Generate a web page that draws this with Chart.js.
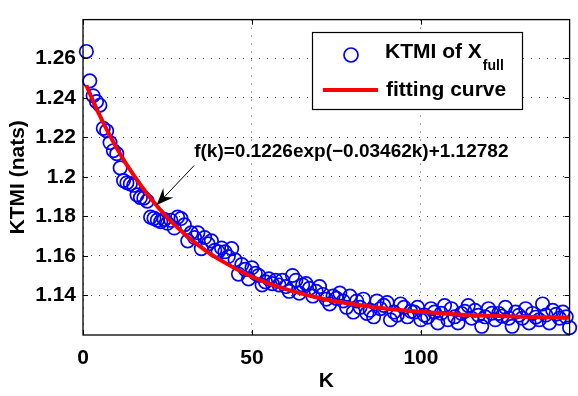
<!DOCTYPE html>
<html>
<head>
<meta charset="UTF-8">
<script src="https://cdn.jsdelivr.net/npm/chart.js@4.4.0/dist/chart.umd.min.js"></script>
<style>
    html, body { margin: 0; padding: 0; background: #fff; }
    canvas { display: block; }
</style>
</head>
<body>
<canvas id="myChart" width="578" height="396"></canvas>

<script>
    // K axis positions of the measured points
    var kValues = [
        1, 2, 3, 4, 5, 6, 7, 8, 9, 10, 11, 12, 13, 14, 15, 16, 17, 18, 19, 20,
        21, 22, 23, 24, 25, 26, 27, 28, 29, 30, 31, 32, 33, 34, 35, 36, 37, 38, 39, 40,
        41, 42, 43, 44, 45, 46, 47, 48, 49, 50, 51, 52, 53, 54, 55, 56, 57, 58, 59, 60,
        61, 62, 63, 64, 65, 66, 67, 68, 69, 70, 71, 72, 73, 74, 75, 76, 77, 78, 79, 80,
        81, 82, 83, 84, 85, 86, 87, 88, 89, 90, 91, 92, 93, 94, 95, 96, 97, 98, 99, 100,
        101, 102, 103, 104, 105, 106, 107, 108, 109, 110, 111, 112, 113, 114, 115, 116, 117, 118, 119, 120,
        121, 122, 123, 124, 125, 126, 127, 128, 129, 130, 131, 132, 133, 134, 135, 136, 137, 138, 139, 140,
        141, 142, 143, 144
    ];

    // KTMI of X_full (nats)
    var ktmiValues = [
        1.2634, 1.2485, 1.2410, 1.2380, 1.2362, 1.2245, 1.2232, 1.2173, 1.2132, 1.2117,
        1.2045, 1.1981, 1.1970, 1.1964, 1.1957, 1.1909, 1.1895, 1.1892, 1.1877, 1.1796,
        1.1790, 1.1781, 1.1773, 1.1785, 1.1765, 1.1780, 1.1741, 1.1796, 1.1789, 1.1757,
        1.1676, 1.1717, 1.1693, 1.1717, 1.1637, 1.1693, 1.1661, 1.1676, 1.1628, 1.1621,
        1.1640, 1.1621, 1.1597, 1.1637, 1.1580, 1.1508, 1.1556, 1.1532, 1.1484, 1.1540,
        1.1512, 1.1501, 1.1453, 1.1469, 1.1484, 1.1460, 1.1477, 1.1453, 1.1477, 1.1445,
        1.1421, 1.1501, 1.1477, 1.1412, 1.1453, 1.1460, 1.1436, 1.1397, 1.1421, 1.1445,
        1.1405, 1.1381, 1.1357, 1.1397, 1.1385, 1.1412, 1.1372, 1.1340, 1.1397, 1.1316,
        1.1372, 1.1340, 1.1381, 1.1309, 1.1325, 1.1292, 1.1372, 1.1333, 1.1350, 1.1364,
        1.1277, 1.1316, 1.1300, 1.1357, 1.1340, 1.1292, 1.1320, 1.1316, 1.1340, 1.1277,
        1.1301, 1.1290, 1.1333, 1.1316, 1.1261, 1.1310, 1.1349, 1.1277, 1.1333, 1.1292,
        1.1261, 1.1309, 1.1320, 1.1349, 1.1285, 1.1325, 1.1300, 1.1244, 1.1292, 1.1333,
        1.1310, 1.1277, 1.1309, 1.1295, 1.1340, 1.1285, 1.1244, 1.1316, 1.1300, 1.1285,
        1.1333, 1.1261, 1.1309, 1.1290, 1.1277, 1.1357, 1.1301, 1.1261, 1.1325, 1.1305,
        1.1285, 1.1316, 1.1292, 1.1237
    ];

    // fitting curve, sampled along the red line
    var fitK = [1, 3, 6, 10, 15, 20, 25, 30, 35, 40, 50, 60, 70, 80, 90, 100, 110, 120, 130, 144];
    var fitValues = [1.2463, 1.2383, 1.2274, 1.2145, 1.2008, 1.1892, 1.1794, 1.1712, 1.1643, 1.1585,
                     1.1495, 1.1432, 1.1387, 1.1355, 1.1333, 1.1317, 1.1305, 1.1297, 1.1292, 1.1287];

    var xTicks = [0, 50, 100];
    var yTicks = [1.14, 1.16, 1.18, 1.2, 1.22, 1.24, 1.26];

    var fitLabel = 'f(k)=0.1226exp(\u22120.03462k)+1.12782';
    var arrowTip = {x: 21.8, y: 1.1857};
    var labelAt = {x: 32.9, y: 1.2128};

    var FONT = '"Liberation Sans", Arial, Helvetica, sans-serif';

    // box, inward ticks, legend and the text arrow, MATLAB style
    var matlabBits = {
        id: 'matlabBits',
        afterDraw: function (chart) {
            var ctx = chart.ctx;
            var a = chart.chartArea;
            var xs = chart.scales.x, ys = chart.scales.y;
            ctx.save();

            ctx.strokeStyle = '#000';
            ctx.lineWidth = 1.3;
            ctx.strokeRect(a.left, a.top, a.right - a.left, a.bottom - a.top);

            ctx.lineWidth = 1;
            ctx.beginPath();
            xTicks.forEach(function (t) {
                var px = Math.round(xs.getPixelForValue(t)) + 0.5;
                ctx.moveTo(px, a.bottom); ctx.lineTo(px, a.bottom - 5);
                ctx.moveTo(px, a.top); ctx.lineTo(px, a.top + 5);
            });
            yTicks.forEach(function (t) {
                var py = Math.round(ys.getPixelForValue(t)) + 0.5;
                ctx.moveTo(a.left, py); ctx.lineTo(a.left + 5, py);
                ctx.moveTo(a.right, py); ctx.lineTo(a.right - 5, py);
            });
            ctx.stroke();

            // annotation
            var tx = xs.getPixelForValue(arrowTip.x), ty = ys.getPixelForValue(arrowTip.y);
            var lx = xs.getPixelForValue(labelAt.x), ly = ys.getPixelForValue(labelAt.y);
            var sx = lx, sy = ly + 14;
            var ang = Math.atan2(ty - sy, tx - sx);
            ctx.beginPath();
            ctx.moveTo(sx, sy); ctx.lineTo(tx, ty);
            ctx.stroke();
            ctx.fillStyle = '#000';
            ctx.beginPath();
            ctx.moveTo(tx, ty);
            ctx.lineTo(tx - 17 * Math.cos(ang) + 7 * Math.sin(ang), ty - 17 * Math.sin(ang) - 7 * Math.cos(ang));
            ctx.lineTo(tx - 11 * Math.cos(ang), ty - 11 * Math.sin(ang));
            ctx.lineTo(tx - 17 * Math.cos(ang) - 7 * Math.sin(ang), ty - 17 * Math.sin(ang) + 7 * Math.cos(ang));
            ctx.closePath();
            ctx.fill();
            ctx.font = 'bold 19px ' + FONT;
            ctx.textBaseline = 'middle';
            ctx.textAlign = 'left';
            ctx.fillText(fitLabel, lx, ly);

            // legend
            var bx = 312, by = 32, bw = 210, bh = 77;
            ctx.fillStyle = '#fff';
            ctx.fillRect(bx, by, bw, bh);
            ctx.strokeStyle = '#000';
            ctx.lineWidth = 1.2;
            ctx.strokeRect(bx + 0.5, by + 0.5, bw, bh);
            ctx.strokeStyle = '#0000ff';
            ctx.lineWidth = 1.7;
            ctx.beginPath();
            ctx.arc(351, 55, 7, 0, Math.PI * 2);
            ctx.stroke();
            ctx.strokeStyle = '#ff0000';
            ctx.lineWidth = 4;
            ctx.beginPath();
            ctx.moveTo(323, 90); ctx.lineTo(378, 90);
            ctx.stroke();
            ctx.fillStyle = '#000';
            ctx.textBaseline = 'alphabetic';
            ctx.font = 'bold 21px ' + FONT;
            ctx.fillText('KTMI of X', 385, 58);
            var w = ctx.measureText('KTMI of X').width;
            ctx.font = 'bold 14px ' + FONT;
            ctx.fillText('full', 385 + w + 1, 70);
            ctx.font = 'bold 21px ' + FONT;
            ctx.fillText('fitting curve', 386, 96);

            ctx.restore();
        }
    };

    function displayChart() {
        var ctx = document.getElementById('myChart').getContext('2d');
        var points = kValues.map(function (k, i) { return {x: k, y: ktmiValues[i]}; });
        var fit = fitK.map(function (k, i) { return {x: k, y: fitValues[i]}; });

        var chart = new Chart(ctx, {
            type: 'scatter',
            data: {
                datasets: [
                    {
                        label: 'fitting curve',
                        data: fit,
                        showLine: true,
                        borderColor: '#ff0000',
                        borderWidth: 4,
                        pointRadius: 0,
                        cubicInterpolationMode: 'monotone',
                        fill: false
                    },
                    {
                        label: 'KTMI of X_full',
                        data: points,
                        showLine: false,
                        pointStyle: 'circle',
                        pointRadius: 6.7,
                        pointBorderWidth: 1.7,
                        borderColor: '#0000ff',
                        backgroundColor: 'rgba(0,0,0,0)',
                        clip: false
                    }
                ]
            },
            options: {
                responsive: false,
                animation: false,
                devicePixelRatio: 1,
                layout: { padding: { left: 0, right: 5, top: 4, bottom: 0 } },
                plugins: { legend: { display: false }, tooltip: { enabled: false } },
                scales: {
                    x: {
                        type: 'linear',
                        min: 0,
                        max: 144,
                        afterBuildTicks: function (s) { s.ticks = xTicks.map(function (v) { return {value: v}; }); },
                        afterFit: function (s) { s.height = 61; },
                        grid: { color: '#444', lineWidth: 1, drawTicks: false },
                        border: { display: false, dash: [1, 7] },
                        ticks: { color: '#000', padding: 11, maxRotation: 0, font: { family: FONT, size: 21, weight: 'bold' } },
                        title: { display: true, text: 'K', color: '#000', padding: { top: 0, bottom: 2 }, font: { family: FONT, size: 21, weight: 'bold' } }
                    },
                    y: {
                        type: 'linear',
                        min: 1.12,
                        max: 1.2795,
                        afterBuildTicks: function (s) { s.ticks = yTicks.map(function (v) { return {value: v}; }); },
                        afterFit: function (s) { s.width = 83; },
                        grid: { color: '#444', lineWidth: 1, drawTicks: false },
                        border: { display: false, dash: [1, 7] },
                        ticks: {
                            color: '#000', padding: 7, font: { family: FONT, size: 21, weight: 'bold' },
                            callback: function (v) { return String(Math.round(v * 100) / 100); }
                        },
                        title: { display: true, text: 'KTMI (nats)', color: '#000', padding: { top: 6, bottom: 0 }, font: { family: FONT, size: 21, weight: 'bold' } }
                    }
                }
            },
            plugins: [matlabBits]
        });
    }
    displayChart();
</script>
</body>
</html>
